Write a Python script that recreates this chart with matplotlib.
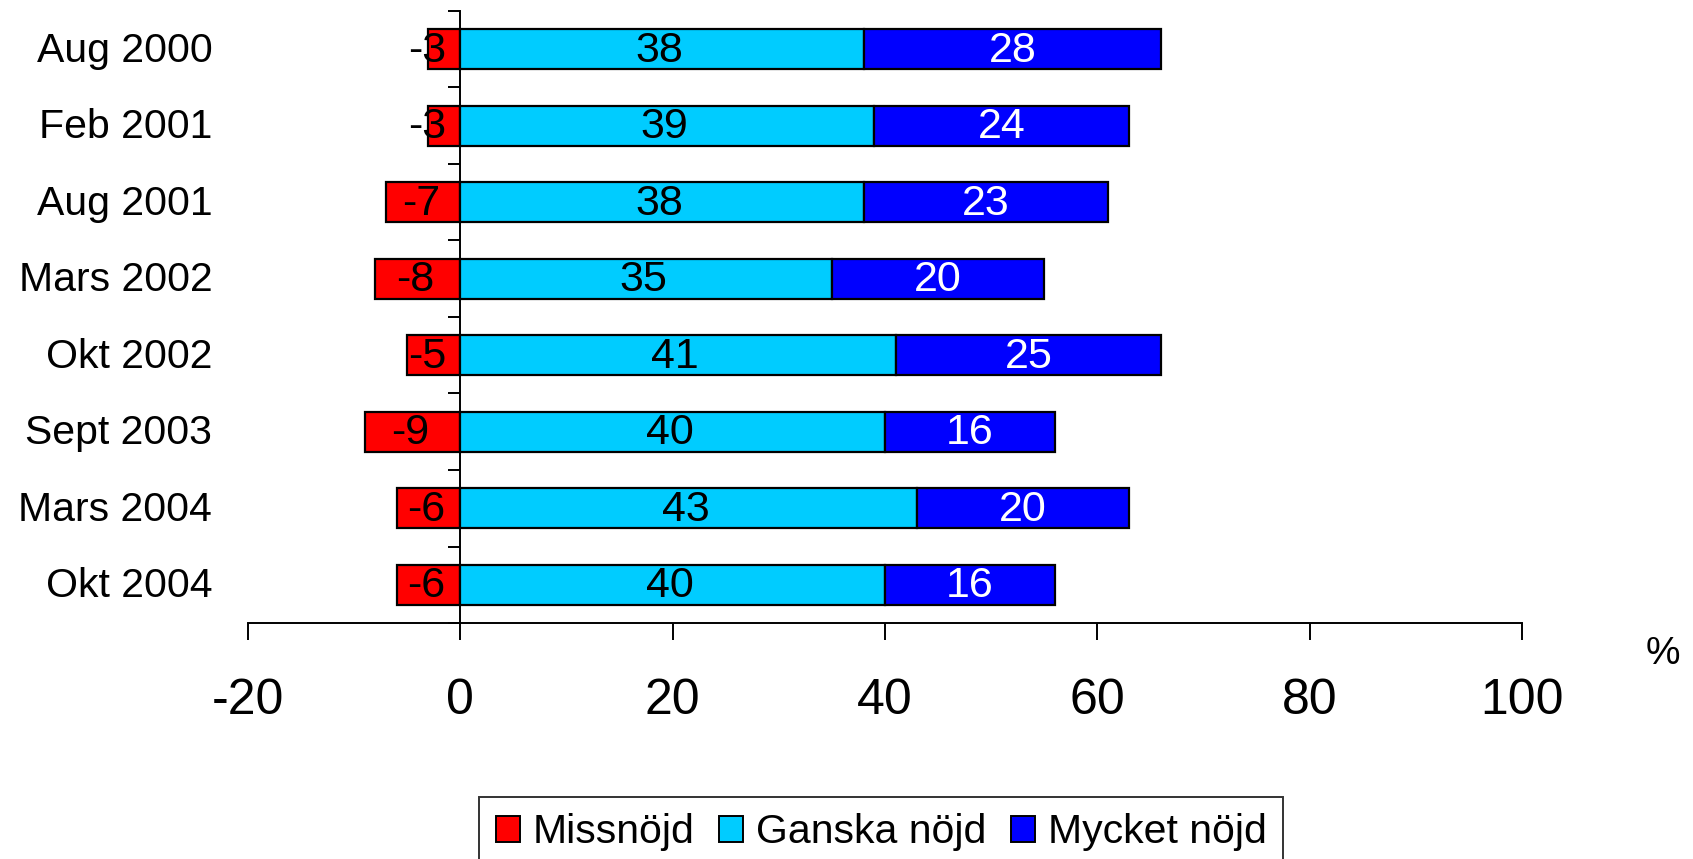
import matplotlib
matplotlib.use("Agg")
import matplotlib.pyplot as plt
from matplotlib.patches import Patch
from matplotlib.transforms import blended_transform_factory

plt.rcParams['font.family'] = ['Liberation Sans', 'DejaVu Sans']

categories = ["Aug 2000", "Feb 2001", "Aug 2001", "Mars 2002", "Okt 2002",
              "Sept 2003", "Mars 2004", "Okt 2004"]
missnojd = [-3, -3, -7, -8, -5, -9, -6, -6]
ganska_nojd = [38, 39, 38, 35, 41, 40, 43, 40]
mycket_nojd = [28, 24, 23, 20, 25, 16, 20, 16]
series_names = ["Missnöjd", "Ganska nöjd", "Mycket nöjd"]
colors = ["#FF0000", "#00CCFF", "#0000FF"]
x_ticks = [-20, 0, 20, 40, 60, 80, 100]

fig = plt.figure(figsize=(16.93, 8.59), dpi=100)
ax = fig.add_axes([248/1693, 1 - 623/859, 1274/1693, 612/859])

ypos = list(range(len(categories)))
bh = 0.52
ekw = dict(edgecolor="black", linewidth=1.6)
ax.barh(ypos, missnojd, height=bh, color=colors[0], **ekw)
ax.barh(ypos, ganska_nojd, height=bh, color=colors[1], **ekw)
ax.barh(ypos, mycket_nojd, left=ganska_nojd, height=bh, color=colors[2], **ekw)

lab_fs = 31
for i in ypos:
    m = missnojd[i]
    ax.text(min(m / 2 - 0.2, -3.1), i + 0.02, f"{m}", ha="center", va="center",
            fontsize=lab_fs, color="black")
    g = ganska_nojd[i]
    ax.text(g / 2 - 0.3, i + 0.02, f"{g}", ha="center", va="center",
            fontsize=lab_fs, color="black")
    v = mycket_nojd[i]
    ax.text(g + v / 2, i + 0.02, f"{v}", ha="center", va="center",
            fontsize=lab_fs, color="white")

ax.set_xlim(-20, 100)
ax.set_ylim(len(categories) - 0.5, -0.5)
ax.set_xticks(x_ticks)
ax.set_xticklabels([str(t) for t in x_ticks], fontsize=36)
ax.tick_params(axis="x", direction="out", length=12.5, width=1.4, pad=27)

ax.spines["top"].set_visible(False)
ax.spines["right"].set_visible(False)
ax.spines["left"].set_position(("data", 0))
ax.spines["left"].set_linewidth(1.4)
ax.spines["bottom"].set_linewidth(1.4)
ax.set_yticks([y - 0.5 for y in range(len(categories) + 1)])
ax.set_yticklabels([])
ax.tick_params(axis="y", direction="out", length=9, width=1.4)

trans = blended_transform_factory(ax.transAxes, ax.transData)
for i, c in enumerate(categories):
    ax.text(-0.028, i + 0.02, c, transform=trans, ha="right", va="center",
            fontsize=29.5)

fig.text(1663/1693, 1 - 654/859, "%", ha="center", va="center", fontsize=28)

handles = [Patch(facecolor=colors[k], edgecolor="black", linewidth=1.4)
           for k in range(3)]
leg = fig.legend(handles, series_names, loc="upper center",
                 bbox_to_anchor=(881/1693, 1 - 797/859), ncol=3, fontsize=29.5,
                 frameon=True, fancybox=False, handlelength=0.6, handleheight=0.6,
                 handletextpad=0.3, columnspacing=0.6, borderpad=0.4,
                 borderaxespad=0)
leg.get_frame().set_edgecolor("black")
leg.get_frame().set_linewidth(1.4)

fig.savefig("out.png", dpi=100)
